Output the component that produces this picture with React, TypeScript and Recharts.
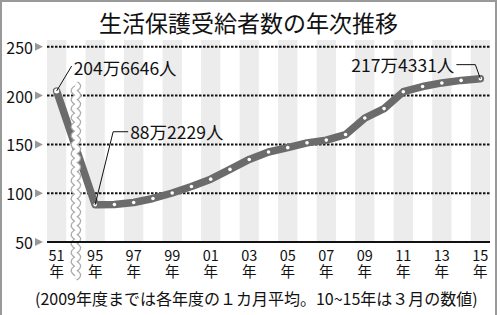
import React from "react";
import {
  ComposedChart,
  Line,
  XAxis,
  YAxis,
  ReferenceLine,
  ReferenceArea,
  LabelList,
} from "recharts";

const years = ["51", "95", "96", "97", "98", "99", "00", "01", "02", "03", "04", "05", "06", "07", "08", "09", "10", "11", "12", "13", "14", "15"];
const values = [204.7, 88.2, 88.5, 90.5, 94.6, 100.2, 106.9, 114.4, 124.4, 134.6, 142.2, 146.7, 151.6, 154.4, 160.1, 177.0, 186.7, 204.0, 209.3, 213.0, 215.6, 217.4];
const tickYears = ["51", "95", "97", "99", "01", "03", "05", "07", "09", "11", "13", "15"];
const callouts: Record<string, string> = { "51": "204万6646人", "95": "88万2229人", "15": "217万4331人" };
const yTicks = [50, 100, 150, 200, 250];
const gridValues = [100, 150, 200, 250];
const title = "生活保護受給者数の年次推移";
const note = "(2009年度までは各年度の１カ月平均。10~15年は３月の数値)";

const FONT = "'Noto Sans CJK JP', 'Noto Sans', sans-serif";

const data = years.map((y, i) => ({
  x: i === 0 ? 93 : 94 + i,
  year: y,
  v: values[i],
  note: callouts[y] || "",
}));
const tickPositions = data.filter((d) => tickYears.includes(d.year)).map((d) => d.x);
const labelByPos: Record<number, string> = {};
data.forEach((d) => (labelByPos[d.x] = d.year));

const YTick = (props: any) => {
  const { x, y, payload } = props;
  return (
    <g>
      <text x={x - 14} y={y} textAnchor="end" dominantBaseline="central" fontSize={16} fill="#111" fontFamily={FONT}>
        {payload.value}
      </text>
      <polygon points={`${x - 12},${y - 4} ${x - 4},${y} ${x - 12},${y + 4}`} fill="#999" />
    </g>
  );
};

const XTick = (props: any) => {
  const { x, y, payload } = props;
  return (
    <text x={x} y={y + 19} textAnchor="middle" fontSize={14.5} fill="#111" fontFamily={FONT}>
      <tspan x={x}>{labelByPos[payload.value]}</tspan>
      <tspan x={x} dy={16}>年</tspan>
    </text>
  );
};

const Wave = (props: any) => {
  const { x1, y1, y2 } = props;
  const top = Math.min(y1, y2);
  const bottom = Math.max(y1, y2);
  let d = "";
  for (let yy = top; yy <= bottom; yy += 1) {
    const xx = x1 + 2 * Math.sin(((yy - top) / 9) * 2 * Math.PI);
    d += (d ? " L" : "M") + xx.toFixed(2) + "," + yy.toFixed(2);
  }
  return (
    <g>
      <path d={d} fill="none" stroke="#aaa" strokeWidth={6.5} />
      <path d={d} fill="none" stroke="#fff" strokeWidth={4} />
    </g>
  );
};

const Dot = (props: any) => {
  const { cx, cy, index } = props;
  if (cx == null || cy == null) return null;
  return <circle key={`d${index}`} cx={cx} cy={cy} r={index === 0 ? 2.5 : 1.8} fill="#fff" />;
};

const Callout = (props: any) => {
  const { x, y, value, index } = props;
  if (!value) return null;
  const fs = 17.5;
  if (index === 0) {
    return (
      <g>
        <line x1={x} y1={y} x2={x + 15} y2={y - 25} stroke="#111" strokeWidth={1} />
        <text x={x + 17} y={y - 24} dominantBaseline="central" fontSize={fs} fill="#111" fontFamily={FONT}>{value}</text>
      </g>
    );
  }
  if (index === 1) {
    return (
      <g>
        <polyline points={`${x},${y} ${x + 18},${y - 73} ${x + 33},${y - 73}`} fill="none" stroke="#111" strokeWidth={1} />
        <text x={x + 35} y={y - 73} dominantBaseline="central" fontSize={fs} fill="#111" fontFamily={FONT}>{value}</text>
      </g>
    );
  }
  return (
    <g>
      <polyline points={`${x - 24},${y - 14} ${x - 5},${y - 14} ${x},${y}`} fill="none" stroke="#111" strokeWidth={1} />
      <text x={x - 26} y={y - 14} textAnchor="end" dominantBaseline="central" fontSize={fs} fill="#111" fontFamily={FONT}>{value}</text>
    </g>
  );
};

export default function App() {
  return (
    <div style={{ position: "absolute", left: 0, top: 0, width: 500, height: 315, background: "#fff", overflow: "hidden", fontFamily: FONT }}>
      <div
        style={{
          position: "absolute",
          left: 0,
          top: 0,
          width: 493,
          height: 330,
          borderLeft: "2px solid #999",
          borderTop: "2px solid #999",
          borderRight: "2px solid #999",
        }}
      />
      <div style={{ position: "absolute", left: 0, top: 10, width: 497, textAlign: "center", fontSize: 23, lineHeight: "24px", color: "#111", whiteSpace: "nowrap" }}>
        {title}
      </div>
      <div style={{ position: "absolute", left: 0, top: 0 }}>
        <ComposedChart width={500} height={315} data={data} margin={{ top: 40, right: 10, bottom: 0, left: 0 }}>
          {tickPositions.map((p) => (
            <ReferenceArea key={`b${p}`} x1={p - 0.5} x2={p + 0.5} y1={50} y2={257} fill="#ececec" fillOpacity={1} stroke="none" />
          ))}
          {gridValues.map((g) => (
            <ReferenceLine key={`g${g}`} y={g} stroke="#111" strokeWidth={2} strokeDasharray="2.5 1.5" />
          ))}
          <XAxis
            dataKey="x"
            type="number"
            domain={[92.5, 115.5]}
            ticks={tickPositions}
            tick={<XTick />}
            tickLine={false}
            tickSize={0}
            tickMargin={0}
            height={73}
            axisLine={{ stroke: "#111", strokeWidth: 2 }}
            interval={0}
          />
          <YAxis
            type="number"
            domain={[50, 257]}
            ticks={yTicks}
            tick={<YTick />}
            tickLine={false}
            tickSize={0}
            tickMargin={0}
            axisLine={false}
            width={47}
            interval={0}
          />
          <Line
            dataKey="v"
            stroke="#6b6b6b"
            strokeWidth={7.5}
            strokeLinecap="round"
            strokeLinejoin="round"
            dot={<Dot />}
            activeDot={false}
            isAnimationActive={false}
          >
            <LabelList dataKey="note" content={<Callout />} />
          </Line>
          <ReferenceLine
            segment={[{ x: 94, y: 212 }, { x: 94, y: 13 }]}
            ifOverflow="visible"
            shape={<Wave />}
          />
        </ComposedChart>
      </div>
      <div style={{ position: "absolute", left: 35, top: 290, fontSize: 16, lineHeight: "17px", color: "#111", whiteSpace: "nowrap" }}>
        {note}
      </div>
    </div>
  );
}
